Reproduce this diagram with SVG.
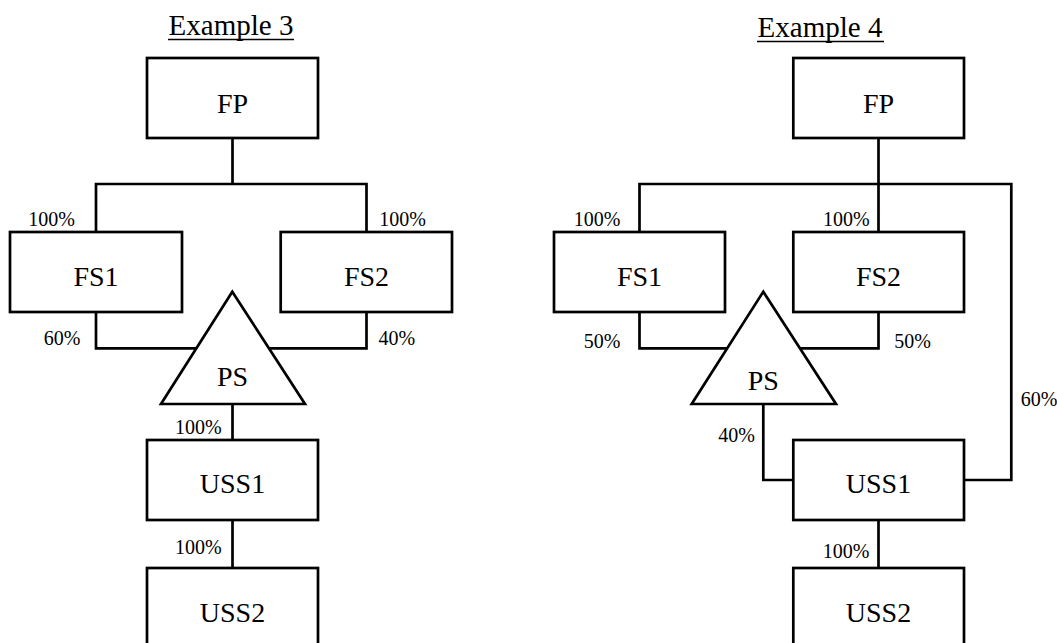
<svg xmlns="http://www.w3.org/2000/svg" width="1057" height="643" viewBox="0 0 1057 643">
<style>
.box{fill:#fff;stroke:#000;stroke-width:2.7}
.c{fill:none;stroke:#000;stroke-width:2.7}
.n{font-family:"Liberation Serif","Times New Roman",serif;font-size:28px;fill:#000;text-anchor:middle}
.t{font-family:"Liberation Serif","Times New Roman",serif;font-size:29px;fill:#000;text-anchor:middle}
.l{font-family:"Liberation Serif","Times New Roman",serif;font-size:20px;fill:#000;text-anchor:middle}
.u{stroke:#000;stroke-width:1.5}
</style>
<rect width="1057" height="643" fill="#fff"/>
<g id="titles">
<text class="t" x="231" y="35">Example 3</text>
<line class="u" x1="168" y1="39.5" x2="294" y2="39.5"/>
<text class="t" x="820" y="37">Example 4</text>
<line class="u" x1="757" y1="41.5" x2="884" y2="41.5"/>
</g>
<g id="connectors">
<polyline class="c" points="232.5,138 232.5,184"/>
<polyline class="c" points="96,232 96,184 366.5,184 366.5,232"/>
<polyline class="c" points="96,312 96,348.3 196.5,348.3"/>
<polyline class="c" points="366.5,312 366.5,348.3 269.3,348.3"/>
<polyline class="c" points="232.5,404 232.5,440"/>
<polyline class="c" points="232.5,520 232.5,568"/>
<polyline class="c" points="878.5,138 878.5,232"/>
<polyline class="c" points="639.5,232 639.5,184 1011.3,184 1011.3,480 964,480"/>
<polyline class="c" points="639.5,312 639.5,348.3 727.2,348.3"/>
<polyline class="c" points="878.5,312 878.5,348.3 800,348.3"/>
<polyline class="c" points="763.3,404 763.3,480 793.3,480"/>
<polyline class="c" points="878.5,520 878.5,568"/>
</g>
<g id="labels">
<text class="l" x="51.7" y="226">100%</text>
<text class="l" x="402.5" y="226">100%</text>
<text class="l" x="62.2" y="345">60%</text>
<text class="l" x="396.8" y="345">40%</text>
<text class="l" x="198.3" y="434">100%</text>
<text class="l" x="198.3" y="554">100%</text>
<text class="l" x="597" y="226">100%</text>
<text class="l" x="846.3" y="226">100%</text>
<text class="l" x="602" y="348">50%</text>
<text class="l" x="912.5" y="348">50%</text>
<text class="l" x="736.7" y="442">40%</text>
<text class="l" x="1039" y="406">60%</text>
<text class="l" x="846" y="558">100%</text>
</g>
<g id="ex3-fp"><rect class="box" x="147" y="58" width="171" height="80"/><text class="n" x="232.5" y="112.7">FP</text></g>
<g id="ex3-fs1"><rect class="box" x="10" y="232" width="172" height="80"/><text class="n" x="96" y="286">FS1</text></g>
<g id="ex3-fs2"><rect class="box" x="280.7" y="232" width="171.3" height="80"/><text class="n" x="366.5" y="286">FS2</text></g>
<g id="ex3-ps"><polygon class="box" points="232.3,291.7 305,404 161,404"/><text class="n" x="232.5" y="386">PS</text></g>
<g id="ex3-uss1"><rect class="box" x="147" y="440" width="171" height="80"/><text class="n" x="232.5" y="493.3">USS1</text></g>
<g id="ex3-uss2"><rect class="box" x="147" y="568" width="171" height="80"/><text class="n" x="232.5" y="621.7">USS2</text></g>
<g id="ex4-fp"><rect class="box" x="793.3" y="58" width="170.7" height="80"/><text class="n" x="878.5" y="112.7">FP</text></g>
<g id="ex4-fs1"><rect class="box" x="554" y="232" width="171" height="80"/><text class="n" x="639.5" y="286">FS1</text></g>
<g id="ex4-fs2"><rect class="box" x="793.3" y="232" width="170.7" height="80"/><text class="n" x="878.5" y="286">FS2</text></g>
<g id="ex4-ps"><polygon class="box" points="763.3,291.7 836,404 691.7,404"/><text class="n" x="763.3" y="390">PS</text></g>
<g id="ex4-uss1"><rect class="box" x="793.3" y="440" width="170.7" height="80"/><text class="n" x="878.5" y="493.3">USS1</text></g>
<g id="ex4-uss2"><rect class="box" x="793.3" y="568" width="170.7" height="80"/><text class="n" x="878.5" y="621.7">USS2</text></g>
</svg>
